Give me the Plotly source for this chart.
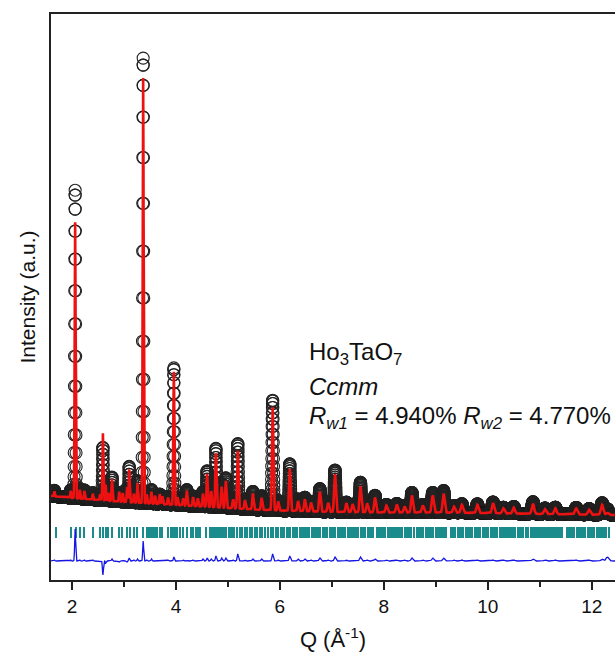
import numpy as np
import plotly.graph_objects as go

# ---------------- data ----------------
# background level (arbitrary units, same scale as intensities)
bg_q = [1.59, 2.0, 2.5, 3.0, 3.5, 4.0, 4.5, 5.0, 5.5, 6.0, 7.0, 8.0, 9.0, 10.0, 11.0, 12.45]
bg_i = [84, 82, 80, 78, 76.5, 75, 73.5, 72, 70.5, 69.5, 68, 67.5, 67.5, 67, 66, 65]

# Bragg peaks: position, observed height, calculated height, width (sigma)
peak_q = [1.66, 1.975, 2.06, 2.15, 2.24, 2.40, 2.54, 2.595, 2.65, 2.70, 2.77, 2.91, 2.975,
          3.06, 3.10, 3.19, 3.26, 3.37, 3.44, 3.53, 3.60, 3.69, 3.74, 3.85, 3.96, 4.03,
          4.14, 4.21, 4.33, 4.42, 4.52, 4.60, 4.68, 4.77, 4.88, 4.96, 5.10, 5.19, 5.33,
          5.48, 5.65, 5.86, 5.97, 6.19, 6.35, 6.48, 6.60, 6.77, 6.93, 7.06, 7.28, 7.40,
          7.55, 7.68, 7.83, 8.05, 8.25, 8.40, 8.54, 8.75, 8.94, 9.15, 9.35, 9.50, 9.80,
          10.10, 10.30, 10.50, 10.87, 11.10, 11.30, 11.70, 11.95, 12.20, 12.30]
peak_obs = [6, 8, 308, 10, 9, 7, 6, 53, 14, 8, 24, 9, 10,
            14, 36, 10, 22, 445, 10, 14, 8, 10, 8, 8, 137, 8,
            8, 16, 10, 8, 15, 36, 18, 59, 24, 30, 10, 65, 10,
            18, 14, 110, 10, 47, 12, 14, 10, 23, 10, 42, 10, 8,
            30, 10, 17, 8, 9, 7, 20, 8, 20, 22, 7, 9, 9,
            11, 6, 7, 12, 6, 7, 7, 6, 12, 6]
peak_calc = [5, 7, 276, 9, 8, 6, 6, 67, 16, 8, 22, 10, 9,
             15, 33, 9, 20, 425, 9, 12, 8, 10, 8, 7, 133, 8,
             7, 15, 9, 8, 13, 33, 16, 54, 21, 27, 9, 58, 9,
             16, 12, 103, 9, 42, 10, 12, 9, 20, 9, 38, 9, 8,
             26, 9, 15, 7, 8, 6, 17, 7, 17, 19, 6, 8, 8,
             10, 5, 6, 10, 5, 6, 6, 5, 10, 2]
peak_w = [0.008, 0.008, 0.009, 0.008, 0.008, 0.008, 0.008, 0.009, 0.008, 0.008, 0.009, 0.009, 0.009,
          0.009, 0.009, 0.009, 0.009, 0.009, 0.009, 0.009, 0.009, 0.01, 0.01, 0.01, 0.01, 0.01,
          0.011, 0.011, 0.011, 0.011, 0.011, 0.011, 0.011, 0.011, 0.012, 0.012, 0.012, 0.012, 0.012,
          0.013, 0.013, 0.013, 0.013, 0.014, 0.014, 0.015, 0.015, 0.016, 0.016, 0.016, 0.016, 0.017,
          0.017, 0.017, 0.017, 0.018, 0.018, 0.018, 0.018, 0.019, 0.019, 0.019, 0.02, 0.02, 0.02,
          0.02, 0.021, 0.021, 0.022, 0.022, 0.022, 0.023, 0.023, 0.024, 0.024]

# reflection tick marks: single ticks and merged bands
refl_q = [1.69, 1.975, 2.08, 2.15, 2.24, 2.40, 2.54, 2.60, 2.65, 2.70, 2.77, 2.91, 2.975,
          3.06, 3.115, 3.19, 3.26, 3.37, 3.44, 3.49, 3.53, 3.56, 3.60, 3.63, 3.69, 3.74,
          3.85, 3.90, 3.95, 3.99, 4.03, 4.08, 4.14, 4.22, 4.29, 4.33, 4.38, 4.42, 4.46,
          4.59, 4.65, 4.70, 4.74, 4.78, 4.81, 4.85, 4.88, 4.91, 4.94, 4.975, 5.02, 5.06,
          5.10, 5.13, 5.17, 5.23, 5.275, 5.33, 5.38, 5.42, 5.47, 5.52, 5.57, 5.62, 5.66,
          5.71, 5.78, 5.83, 5.87, 5.92, 5.97]
band_start = [6.00, 6.11, 6.23, 6.37, 6.59, 6.81, 6.94, 7.10, 7.29, 7.55, 7.68, 7.84, 8.06,
              8.38, 8.57, 8.62, 8.80, 8.98, 9.27, 9.41, 9.57, 9.73, 9.89, 10.05, 10.21,
              10.56, 10.72, 10.82, 11.50, 11.70, 11.91, 12.09, 12.32]
band_end = [6.09, 6.21, 6.34, 6.57, 6.79, 6.92, 7.08, 7.27, 7.53, 7.66, 7.82, 8.04, 8.36,
            8.55, 8.60, 8.78, 8.96, 9.22, 9.39, 9.55, 9.71, 9.87, 10.03, 10.19, 10.54,
            10.70, 10.80, 11.44, 11.68, 11.89, 12.07, 12.30, 12.35]

x_ticks = [2, 4, 6, 8, 10, 12]
diff_offset = 19
tick_base, tick_len = 42, 11

# ---------------- profiles ----------------
q = np.round(np.arange(1.59, 12.45, 0.0016), 4)
bg = np.interp(q, bg_q, bg_i)
obs = bg.copy()
calc = bg.copy()
for pq, ho, hc, w in zip(peak_q, peak_obs, peak_calc, peak_w):
    c = q[np.argmin(np.abs(q - pq))]
    g = np.exp(-((q - c) ** 2) / (2 * w * w))
    obs += ho * g
    calc += hc * g
diff = obs - calc + diff_offset

fig = go.Figure()
fig.add_trace(go.Scatter(x=q, y=obs, mode="markers",
                         marker=dict(symbol="circle-open", size=12, color="#222222",
                                     line=dict(width=1.1, color="#222222")),
                         hoverinfo="skip"))
fig.add_trace(go.Scatter(x=q, y=calc, mode="lines",
                         line=dict(color="#ee1111", width=2.6), hoverinfo="skip"))
fig.add_trace(go.Bar(x=refl_q, y=[tick_len] * len(refl_q), base=tick_base,
                     width=[0.026] * len(refl_q), marker=dict(color="#1a8c8c", line=dict(width=0)),
                     hoverinfo="skip"))
bc = [(s + e) / 2 for s, e in zip(band_start, band_end)]
bw = [e - s for s, e in zip(band_start, band_end)]
fig.add_trace(go.Bar(x=bc, y=[tick_len] * len(bc), base=tick_base, width=bw,
                     marker=dict(color="#1a8c8c", line=dict(width=0)), hoverinfo="skip"))
fig.add_trace(go.Scatter(x=q, y=diff, mode="lines",
                         line=dict(color="#1515e6", width=1.3), hoverinfo="skip"))

font_family = "Liberation Sans, Arial, sans-serif"
ann_font = dict(family=font_family, size=24, color="#111111")
fig.add_annotation(x=6.52, y=227, xref="x", yref="y", xanchor="left", yanchor="middle",
                   text="Ho<sub>3</sub>TaO<sub>7</sub>", showarrow=False, font=ann_font)
fig.add_annotation(x=6.52, y=194, xref="x", yref="y", xanchor="left", yanchor="middle",
                   text="<i>Ccmm</i>", showarrow=False, font=ann_font)
fig.add_annotation(x=6.52, y=163, xref="x", yref="y", xanchor="left", yanchor="middle",
                   text="<i>R<sub>w1</sub></i> = 4.940% <i>R<sub>w2</sub></i> = 4.770%",
                   showarrow=False, font=ann_font)

fig.update_layout(
    width=615, height=658,
    margin=dict(l=51, r=0, t=14, b=78),
    paper_bgcolor="white", plot_bgcolor="white",
    showlegend=False, bargap=0,
    font=dict(family=font_family, color="#111111"),
    xaxis=dict(range=[1.596, 12.448], showline=True, linecolor="#222222", linewidth=1.6,
               mirror=True, showgrid=False, zeroline=False,
               tickmode="array", tickvals=x_ticks, ticktext=[str(t) for t in x_ticks],
               ticks="outside", ticklen=8, tickwidth=1.5, tickcolor="#222222",
               minor=dict(dtick=1, tick0=0, ticks="outside", ticklen=5, tickwidth=1.5,
                          tickcolor="#222222"),
               tickfont=dict(size=19, family=font_family),
               title=dict(text="Q (Å<sup>-1</sup>)", font=dict(size=22, family=font_family),
                          standoff=16)),
    yaxis=dict(range=[0, 566], showline=True, linecolor="#222222", linewidth=1.6,
               mirror=False, showgrid=False, zeroline=False, showticklabels=False,
               ticks="",
               title=dict(text="Intensity (a.u.)", font=dict(size=21, family=font_family),
                          standoff=8)),
)

fig.write_html("out.html")
